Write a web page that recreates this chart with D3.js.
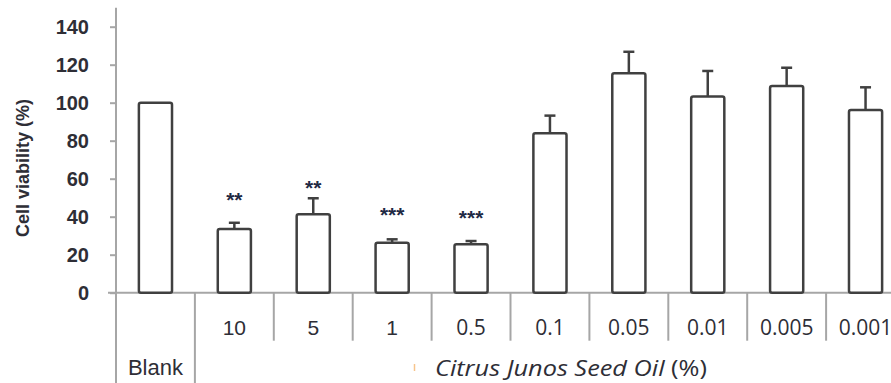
<!DOCTYPE html>
<html>
<head>
<meta charset="utf-8">
<script src="https://cdn.jsdelivr.net/npm/d3@7"></script>
<style>
  body { margin: 0; background: #fff; }
  svg { display: block; }
</style>
</head>
<body>
<div id="chart"></div>
<script>
// data
var categories = ["Blank", "10", "5", "1", "0.5", "0.1", "0.05", "0.01", "0.005", "0.001"];
var viability = [100, 33.5, 41.3, 26.3, 25.5, 83.9, 115.5, 103.2, 108.8, 96.2];
var errors = [0, 3.3, 8.4, 1.8, 1.7, 9.3, 11.3, 13.5, 9.6, 11.9];
var stars = ["", "**", "**", "***", "***", "", "", "", "", ""];
var starLevel = [0, 51, 57.2, 43, 41.6, 0, 0, 0, 0, 0];
var yTicks = [0, 20, 40, 60, 80, 100, 120, 140];

var rows = categories.map((c, i) => ({
    cat: c,
    value: viability[i],
    err: errors[i],
    star: stars[i],
    starAt: starLevel[i],
    idx: i
}));

var svgWidth = 891;
var svgHeight = 383;

var svg = d3.select("#chart")
    .append("svg")
    .attr("width", svgWidth)
    .attr("height", svgHeight);

var x = d3.scaleBand()
    .domain(categories)
    .range([116, 905])
    .padding(0);

var y = d3.scaleLinear()
    .domain([0, 150])
    .range([292.7, 7.7]);

var lineColor = "#a6a6a6";
var barColor = "#404040";
var textColor = "#2e2e36";
var arial = "Arial, 'Liberation Sans', sans-serif";
var segoe = "'Open Sans', sans-serif";

var cx = d => x(d.cat) + x.bandwidth() / 2;

// y axis
var yAxis = svg.append("g")
    .attr("transform", "translate(116,0)")
    .call(d3.axisLeft(y).tickValues(yTicks).tickSize(6).tickFormat(d3.format("d")));

yAxis.select(".domain")
    .attr("stroke", lineColor)
    .attr("stroke-width", 2)
    .attr("d", "M0," + y(150) + "V" + y(0));
yAxis.selectAll(".tick line")
    .attr("stroke", lineColor)
    .attr("stroke-width", 2);
yAxis.selectAll(".tick text")
    .attr("x", -27)
    .attr("fill", textColor)
    .style("font-family", arial)
    .style("font-size", "20px")
    .style("font-weight", "bold");

// y axis title
svg.append("text")
    .attr("transform", "translate(29,168) rotate(-90)")
    .attr("text-anchor", "middle")
    .attr("fill", textColor)
    .style("font-family", arial)
    .style("font-size", "18px")
    .style("font-weight", "bold")
    .text("Cell viability (%)");

// table under the x axis
svg.append("line")
    .attr("x1", 108).attr("x2", svgWidth)
    .attr("y1", y(0)).attr("y2", y(0))
    .attr("stroke", lineColor)
    .attr("stroke-width", 2);

svg.append("line")
    .attr("x1", 116).attr("x2", 116)
    .attr("y1", y(0)).attr("y2", svgHeight)
    .attr("stroke", lineColor)
    .attr("stroke-width", 2);

svg.selectAll(".divider")
    .data(rows)
    .enter()
    .append("line")
    .attr("class", "divider")
    .attr("x1", d => x(d.cat) + x.bandwidth())
    .attr("x2", d => x(d.cat) + x.bandwidth())
    .attr("y1", y(0))
    .attr("y2", d => d.idx === 0 ? svgHeight : y(0) + 48)
    .attr("stroke", lineColor)
    .attr("stroke-width", 2);

// bars
var barWidth = x.bandwidth() * 0.42;

svg.selectAll(".bar")
    .data(rows)
    .enter()
    .append("rect")
    .attr("class", "bar")
    .attr("x", d => cx(d) - barWidth / 2)
    .attr("y", d => y(d.value))
    .attr("width", barWidth)
    .attr("height", d => y(0) - y(d.value))
    .attr("rx", 2)
    .attr("fill", "#fff")
    .attr("stroke", barColor)
    .attr("stroke-width", 2.5);

// error bars (upper half only)
var errRows = rows.filter(d => d.err > 0);

svg.selectAll(".err")
    .data(errRows)
    .enter()
    .append("line")
    .attr("class", "err")
    .attr("x1", cx)
    .attr("x2", cx)
    .attr("y1", d => y(d.value))
    .attr("y2", d => y(d.value + d.err))
    .attr("stroke", barColor)
    .attr("stroke-width", 2.5);

svg.selectAll(".cap")
    .data(errRows)
    .enter()
    .append("line")
    .attr("class", "cap")
    .attr("x1", d => cx(d) - 5.5)
    .attr("x2", d => cx(d) + 5.5)
    .attr("y1", d => y(d.value + d.err))
    .attr("y2", d => y(d.value + d.err))
    .attr("stroke", barColor)
    .attr("stroke-width", 2.5);

// significance marks
svg.selectAll(".star")
    .data(rows.filter(d => d.star))
    .enter()
    .append("text")
    .attr("class", "star")
    .attr("x", cx)
    .attr("y", d => y(d.starAt) + 11)
    .attr("text-anchor", "middle")
    .attr("fill", "#1f2a44")
    .style("font-family", arial)
    .style("font-size", "21px")
    .style("font-weight", "bold")
    .text(d => d.star);

// category labels
svg.selectAll(".cat")
    .data(rows)
    .enter()
    .append("text")
    .attr("class", "cat")
    .attr("x", cx)
    .attr("y", d => d.idx === 0 ? 375 : 335)
    .attr("text-anchor", "middle")
    .attr("fill", textColor)
    .style("font-family", d => d.idx < 4 ? arial : segoe)
    .style("font-size", d => d.idx === 0 ? "22px" : "21px")
    .style("font-weight", d => d.idx === 0 ? "500" : "normal")
    .text(d => d.cat);

// group label, stretched a bit wider like the original
var groupLabel = svg.append("text")
    .attr("x", 435)
    .attr("y", 376)
    .attr("textLength", 272)
    .attr("lengthAdjust", "spacingAndGlyphs")
    .attr("fill", textColor)
    .style("font-family", segoe)
    .style("font-size", "22px");

groupLabel.append("tspan")
    .style("font-style", "italic")
    .text("Citrus Junos Seed Oil");

groupLabel.append("tspan")
    .text(" (%)");

// little orange speck left of the label
svg.append("line")
    .attr("x1", 414.5).attr("x2", 414.5)
    .attr("y1", 364).attr("y2", 371)
    .attr("stroke", "#f7c48c")
    .attr("stroke-width", 1.5);
</script>
</body>
</html>
